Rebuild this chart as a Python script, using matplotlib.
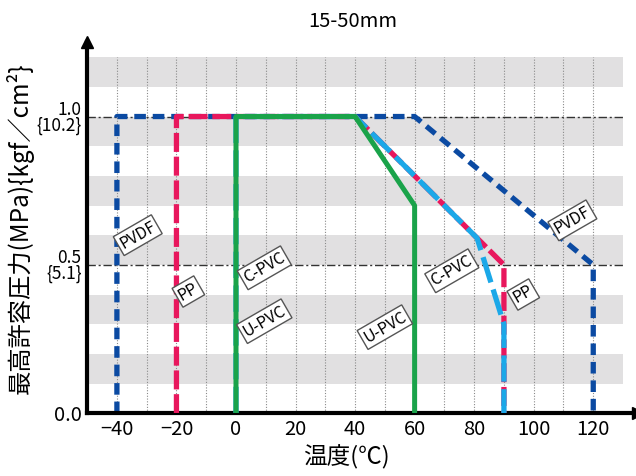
import matplotlib.pyplot as plt

plt.rcParams['font.family'] = ['Noto Sans CJK JP', 'DejaVu Sans']

# pressure curves (temperature degC, pressure MPa)
pvdf_t = [-40, -40, 60, 120, 120]
pvdf_p = [0.0, 1.0, 1.0, 0.5, 0.0]
pp_t = [-20, -20, 40, 90, 90]
pp_p = [0.0, 1.0, 1.0, 0.5, 0.0]
cpvc_t = [0, 0, 40, 81, 90, 90]
cpvc_p = [0.0, 1.0, 1.0, 0.59, 0.3, 0.0]
upvc_t = [0, 0, 40, 60, 60]
upvc_p = [0.0, 1.0, 1.0, 0.7, 0.0]

x_ticks = [-40, -20, 0, 20, 40, 60, 80, 100, 120]
y_ticks = [0.0, 0.5, 1.0]
y_ticklabels = ['0.0', '0.5\n{5.1}', '1.0\n{10.2}']

# boxed labels: text, temperature, pressure
labels = [
    ('PVDF', -33, 0.6),
    ('PP', -16, 0.41),
    ('C-PVC', 9.5, 0.49),
    ('U-PVC', 9.5, 0.31),
    ('U-PVC', 50, 0.29),
    ('C-PVC', 72.5, 0.48),
    ('PP', 96.5, 0.40),
    ('PVDF', 113, 0.65),
]

fig = plt.figure(figsize=(6.36, 4.76), dpi=100)
ax = fig.add_axes([0.137, 0.132, 0.866, 0.779])
xmin, xmax, band_end = -50, 135, 130
ax.set_xlim(xmin, xmax)
ax.set_ylim(0, 1.25)

# grey bands
frac = (band_end - xmin) / (xmax - xmin)
for lo in [0.1, 0.3, 0.5, 0.7, 0.9, 1.1]:
    ax.axhspan(lo, lo + 0.1, xmax=frac, color='#e1e0e1', lw=0, zorder=0)

# dotted vertical grid
for t in range(-40, 130, 10):
    ax.plot([t, t], [0, 1.2], color='#8a8a8a', lw=0.8, ls=(0, (1, 1.5)), zorder=1)

# dash-dot reference lines
for p in [0.5, 1.0]:
    ax.plot([xmin, band_end], [p, p], color='#333333', lw=1.0, ls=(0, (6, 2, 1.5, 2)), zorder=1)

ax.plot(pvdf_t, pvdf_p, color='#0b4aa2', lw=3.8, ls=(0, (2.2, 1.3)), zorder=2)
ax.plot(pp_t, pp_p, color='#e8175d', lw=3.8, ls=(0, (3.6, 0.9)), zorder=3)
ax.plot(cpvc_t, cpvc_p, color='#1ba8e8', lw=3.8, ls=(0, (5, 1.4)), zorder=4)
ax.plot(upvc_t, upvc_p, color='#1aa34a', lw=3.6, zorder=5)

for txt, t, p in labels:
    ax.text(t, p, txt, rotation=30, ha='center', va='center', fontsize=11.5,
            bbox=dict(boxstyle='square,pad=0.15', fc='white', ec='#555555', lw=1),
            zorder=6)

# axes with arrow heads
for s in ['top', 'right']:
    ax.spines[s].set_visible(False)
for s in ['left', 'bottom']:
    ax.spines[s].set_linewidth(3)
ax.plot(0, 1, '^k', ms=9, transform=ax.transAxes, clip_on=False)
ax.plot(1, 0, '>k', ms=9, transform=ax.transAxes, clip_on=False)

ax.set_xticks(x_ticks)
ax.set_yticks(y_ticks)
ax.set_yticklabels(y_ticklabels, linespacing=0.85)
ax.tick_params(length=0, labelsize=14.5, pad=4)
for lab in ax.get_yticklabels()[1:]:
    lab.set_fontsize(12.5)

ax.set_xlabel('温度(℃)', fontsize=17, labelpad=0)
ax.xaxis.set_label_coords(0.47, -0.085)
ax.set_ylabel('最高許容圧力(MPa){kgf／cm²}', fontsize=17.5, labelpad=2)
fig.text(0.555, 0.955, '15-50mm', ha='center', va='center', fontsize=14.5)

plt.savefig('out.png', dpi=100)
